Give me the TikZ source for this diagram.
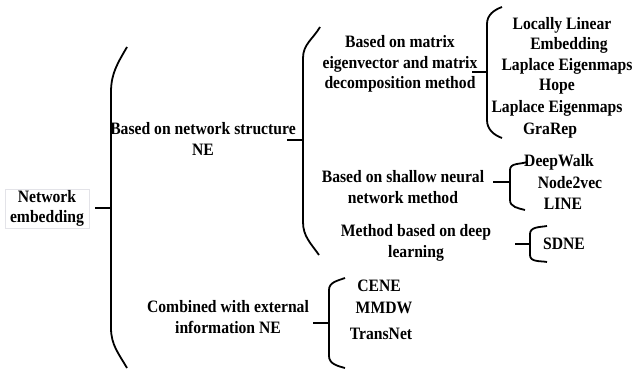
\documentclass[tikz,border=0pt]{standalone}
\usepackage{fontspec}
\setmainfont{Liberation Serif}[FakeStretch=0.9]
\begin{document}
\begin{tikzpicture}[x=1pt,y=-1pt,
  txt/.style={font=\bfseries\fontsize{17.4}{20.5}\selectfont, align=center, inner sep=0pt},
  brk/.style={line width=1.8pt},
  stub/.style={line width=2.6pt}]
\useasboundingbox (0,0) rectangle (634,369);
% root
\node[txt, draw=blue!8!gray!20, fill=white, minimum width=84pt, minimum height=37pt, inner sep=1pt] (root) at (47,208.5) {Network\\embedding};
\draw[stub] (95,208) -- (111,208);
\draw[brk] (127,47) to[out=240,in=90] (111,92) -- (111,328) to[out=-90,in=120] (127,368);
% level 1
\node[txt] (struct) at (203,139) {Based on network structure\\NE};
\node[txt] (ext) at (228,317) {Combined with external\\information NE};
% bracket 2
\draw[stub] (287,140) -- (303,140);
\draw[brk] (320,27) to[out=240,in=90] (303,58) -- (303,222) to[out=-90,in=125] (319,255);
\node[txt] (mat) at (400,64) {Based on matrix\\eigenvector and matrix\\decomposition method};
\node[txt] (shallow) at (403,187) {Based on shallow neural\\network method};
\node[txt] (deep) at (416,243) {Method based on deep\\learning};
% bracket 3
\draw[stub] (472,72) -- (487,72);
\draw[brk] (502,7) to[out=200,in=90] (487,24) -- (487,120) to[out=-90,in=160] (502,138);
\node[txt] (l1) at (562,25) {Locally Linear};
\node[txt] (l2) at (569,45) {Embedding};
\node[txt] (l3) at (567,66) {Laplace Eigenmaps};
\node[txt] (l4) at (557,87) {Hope};
\node[txt] (l5) at (557,108) {Laplace Eigenmaps};
\node[txt] (l6) at (550,131) {GraRep};
% bracket 4
\draw[stub] (493,182) -- (510,182);
\draw[brk] (527,162) to[out=200,in=90] (510,170) -- (510,200) to[out=-90,in=165] (525,210);
\node[txt] (s1) at (559,162) {DeepWalk};
\node[txt] (s2) at (570,183) {Node2vec};
\node[txt] (s3) at (563,204) {LINE};
% bracket 5
\draw[stub] (515,244) -- (530,244);
\draw[brk] (547,226) to[out=190,in=90] (530,234) -- (530,255) to[out=-90,in=170] (547,262);
\node[txt] (d1) at (564,244) {SDNE};
% bracket 6
\draw[stub] (313,323) -- (329,323);
\draw[brk] (345,278) to[out=200,in=90] (329,290) -- (329,356) to[out=-90,in=165] (345,368);
\node[txt] (e1) at (379,286) {CENE};
\node[txt] (e2) at (384,308) {MMDW};
\node[txt] (e3) at (381,334) {TransNet};
\end{tikzpicture}
\end{document}
